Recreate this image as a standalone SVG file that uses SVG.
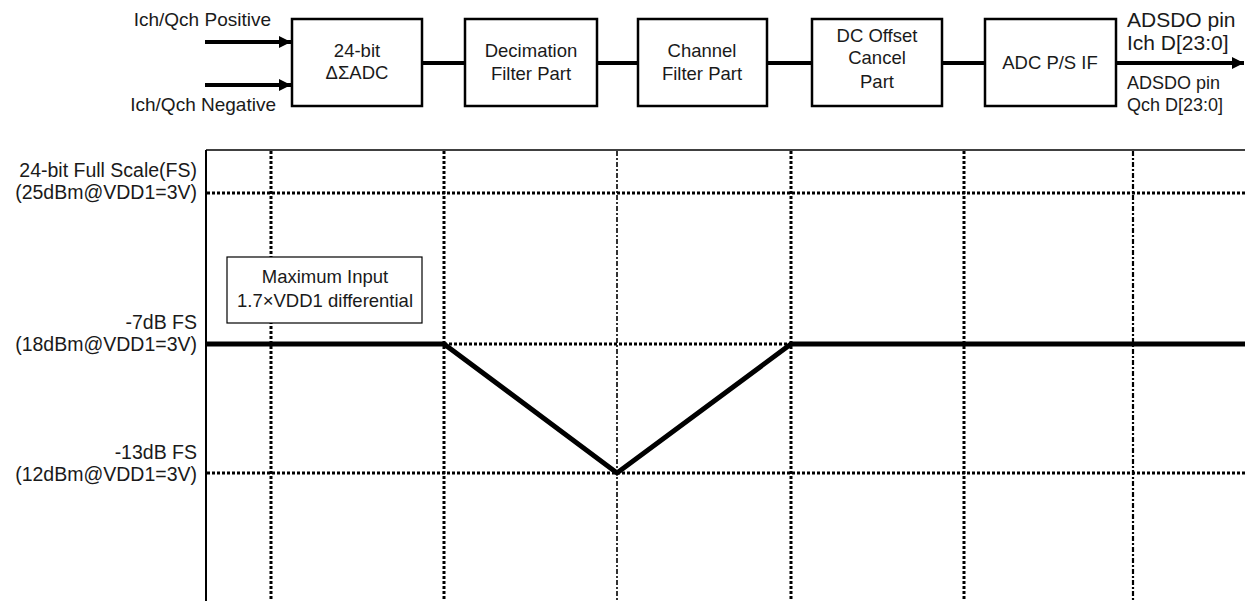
<svg xmlns="http://www.w3.org/2000/svg" width="1245" height="601" viewBox="0 0 1245 601">
<style>
text{font-family:"Liberation Sans",Arial,sans-serif;fill:#1a1a1a}
.blk{font-size:18.5px;text-anchor:middle}
.lbl{font-size:19.5px;text-anchor:end}
.in{font-size:19px;text-anchor:end}
.box{fill:#fff;stroke:#000;stroke-width:2.5}
.wire{stroke:#000;stroke-width:4;fill:none}
.gthick{stroke:#000;stroke-width:3;stroke-dasharray:3 2;fill:none}
.gthin{stroke:#000;stroke-width:1.6;stroke-dasharray:5 2 2 2;fill:none}
.hdot{stroke:#000;stroke-width:3;stroke-dasharray:3 2;fill:none}
.curve{stroke:#000;stroke-width:5;fill:none}
</style>
<defs>
<marker id="ah" viewBox="0 0 10 10" refX="10" refY="5" markerWidth="12" markerHeight="12" markerUnits="userSpaceOnUse" orient="auto">
<path d="M0,0 L10,5 L0,10 Z" fill="#000"/>
</marker>
</defs>

<g id="connectors">
<line class="wire" x1="205" y1="42" x2="291" y2="42" marker-end="url(#ah)"/>
<line class="wire" x1="205" y1="85" x2="291" y2="85" marker-end="url(#ah)"/>
<line class="wire" x1="422" y1="63" x2="465" y2="63"/>
<line class="wire" x1="597" y1="63" x2="638" y2="63"/>
<line class="wire" x1="767" y1="63" x2="812" y2="63"/>
<line class="wire" x1="942" y1="63" x2="985" y2="63"/>
<line class="wire" x1="1116" y1="63" x2="1244" y2="63" marker-end="url(#ah)"/>
</g>

<text x="271" y="26" class="in">Ich/Qch Positive</text>
<text x="276" y="111" class="in">Ich/Qch Negative</text>

<g id="adc">
<rect class="box" x="292" y="19" width="130" height="87"/>
<text x="357" y="57" class="blk">24-bit</text>
<text x="357" y="79" class="blk">ΔΣADC</text>
</g>
<g id="decimation">
<rect class="box" x="465" y="19" width="132" height="87"/>
<text x="531" y="57" class="blk">Decimation</text>
<text x="531" y="80" class="blk">Filter Part</text>
</g>
<g id="channel">
<rect class="box" x="638" y="19" width="129" height="87"/>
<text x="702" y="57" class="blk">Channel</text>
<text x="702" y="80" class="blk">Filter Part</text>
</g>
<g id="dcoffset">
<rect class="box" x="812" y="19" width="130" height="87"/>
<text x="877" y="42" class="blk">DC Offset</text>
<text x="877" y="64" class="blk">Cancel</text>
<text x="877" y="88" class="blk">Part</text>
</g>
<g id="adcps">
<rect class="box" x="985" y="19" width="131" height="87"/>
<text x="1050" y="69" class="blk">ADC P/S IF</text>
</g>

<text x="1127" y="27" style="font-size:21px">ADSDO pin</text>
<text x="1127" y="50" style="font-size:21px">Ich D[23:0]</text>
<text x="1127" y="89" style="font-size:18px">ADSDO pin</text>
<text x="1127" y="111" style="font-size:18px">Qch D[23:0]</text>

<g id="chart">
<line x1="206" y1="150" x2="1245" y2="150" stroke="#000" stroke-width="1.5"/>
<line x1="206" y1="150" x2="206" y2="601" stroke="#000" stroke-width="2"/>
<line class="gthick" x1="271" y1="151" x2="271" y2="601"/>
<line class="gthick" x1="444" y1="151" x2="444" y2="601"/>
<line class="gthin" x1="617" y1="151" x2="617" y2="601"/>
<line class="gthick" x1="791" y1="151" x2="791" y2="601"/>
<line class="gthick" x1="964" y1="151" x2="964" y2="601"/>
<line class="gthin" x1="1133" y1="151" x2="1133" y2="601" style="stroke-width:2.2"/>
<line class="hdot" x1="207" y1="193" x2="1245" y2="193"/>
<line class="hdot" x1="444" y1="344" x2="791" y2="344"/>
<line class="hdot" x1="207" y1="473" x2="1245" y2="473"/>
<polyline class="curve" points="207,344 444,344 617,473 791,344 1245,344"/>
</g>

<text x="197" y="177" class="lbl">24-bit Full Scale(FS)</text>
<text x="197" y="199" class="lbl">(25dBm@VDD1=3V)</text>
<text x="197" y="329" class="lbl">-7dB FS</text>
<text x="197" y="351" class="lbl">(18dBm@VDD1=3V)</text>
<text x="197" y="459" class="lbl">-13dB FS</text>
<text x="197" y="481" class="lbl">(12dBm@VDD1=3V)</text>

<g id="maxinput">
<rect x="227" y="257" width="195" height="66" fill="#fff" stroke="#000" stroke-width="1.2"/>
<text x="325" y="283" class="blk">Maximum Input</text>
<text x="325" y="307" class="blk">1.7×VDD1 differential</text>
</g>
</svg>
